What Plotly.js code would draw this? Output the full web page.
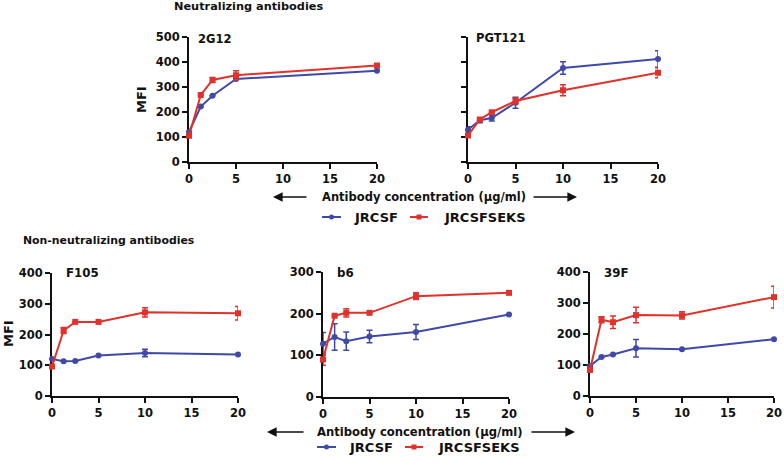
<!DOCTYPE html>
<html>
<head>
<meta charset="utf-8">
<script src="https://cdn.plot.ly/plotly-3.0.1.min.js"></script>
<style>html,body{margin:0;padding:0;background:#fff;}#chart{width:784px;height:463px;}</style>
</head>
<body>
<div id="chart"></div>
<script>
// ---- data ----
const seriesNames = ["JRCSF", "JRCSFSEKS"];
const panelNames = ["2G12", "PGT121", "F105", "b6", "39F"];

const x_2G12 = [0, 1.25, 2.5, 5, 20];
const jrcsf_2G12 = [120, 222, 265, 332, 365];
const jrcsf_2G12_err = [0, 0, 0, 0, 0];
const seks_2G12 = [105, 268, 328, 347, 386];
const seks_2G12_err = [0, 0, 10, 18, 0];

const x_PGT121 = [0, 1.25, 2.5, 5, 10, 20];
const jrcsf_PGT121 = [129, 167, 176, 237, 376, 412];
const jrcsf_PGT121_err = [12, 10, 12, 22, 25, 33];
const seks_PGT121 = [106, 170, 199, 244, 287, 357];
const seks_PGT121_err = [0, 0, 0, 12, 22, 20];

const x_F105 = [0, 1.25, 2.5, 5, 10, 20];
const jrcsf_F105 = [120, 113, 114, 132, 140, 135];
const jrcsf_F105_err = [0, 0, 0, 0, 12, 0];
const seks_F105 = [96, 213, 241, 241, 272, 269];
const seks_F105_err = [0, 10, 0, 0, 15, 22];

const x_b6 = [0, 1.25, 2.5, 5, 10, 20];
const jrcsf_b6 = [128, 144, 134, 145, 156, 198];
const jrcsf_b6_err = [27, 32, 22, 15, 18, 0];
const seks_b6 = [90, 195, 202, 202, 242, 250];
const seks_b6_err = [14, 0, 10, 0, 8, 0];

const x_39F = [0, 1.25, 2.5, 5, 10, 20];
const jrcsf_39F = [97, 126, 134, 154, 151, 183];
const jrcsf_39F_err = [0, 0, 0, 28, 0, 0];
const seks_39F = [84, 246, 238, 261, 260, 319];
const seks_39F_err = [0, 10, 20, 25, 12, 35];

const xTicks = [0, 5, 10, 15, 20];
// ---- end data ----

const W = 784, H = 463;
const BLUE = "#4049a8", RED = "#e0312a";
const FONT = "DejaVu Sans, Liberation Sans, Arial, sans-serif";
const px = v => v / W, py = v => 1 - v / H;

function mk(x, y, e, name, color, sym, ax, ay) {
  return {
    x: x, y: y, name: name, type: "scatter", mode: "lines+markers",
    xaxis: ax, yaxis: ay, showlegend: false, cliponaxis: false,
    line: {color: color, width: 2},
    marker: {color: color, symbol: sym, size: 6},
    error_y: {type: "data", array: e, visible: true, color: color, thickness: 1.5, width: 3}
  };
}
const data = [
  mk(x_2G12, jrcsf_2G12, jrcsf_2G12_err, seriesNames[0], BLUE, "circle", "x", "y"),
  mk(x_2G12, seks_2G12, seks_2G12_err, seriesNames[1], RED, "square", "x", "y"),
  mk(x_PGT121, jrcsf_PGT121, jrcsf_PGT121_err, seriesNames[0], BLUE, "circle", "x2", "y2"),
  mk(x_PGT121, seks_PGT121, seks_PGT121_err, seriesNames[1], RED, "square", "x2", "y2"),
  mk(x_F105, jrcsf_F105, jrcsf_F105_err, seriesNames[0], BLUE, "circle", "x3", "y3"),
  mk(x_F105, seks_F105, seks_F105_err, seriesNames[1], RED, "square", "x3", "y3"),
  mk(x_b6, jrcsf_b6, jrcsf_b6_err, seriesNames[0], BLUE, "circle", "x4", "y4"),
  mk(x_b6, seks_b6, seks_b6_err, seriesNames[1], RED, "square", "x4", "y4"),
  mk(x_39F, jrcsf_39F, jrcsf_39F_err, seriesNames[0], BLUE, "circle", "x5", "y5"),
  mk(x_39F, seks_39F, seks_39F_err, seriesNames[1], RED, "square", "x5", "y5")
];

const tf = {family: FONT, size: 11.5, color: "#111", weight: "bold"};
function xa(d, anchor) {
  return {domain: d, anchor: anchor, range: [0, 20], tickvals: xTicks, ticks: "outside", ticklen: 5, tickwidth: 2,
    showline: true, linewidth: 2, linecolor: "#111", tickcolor: "#111", showgrid: false, zeroline: false,
    tickfont: tf, layer: "below traces", fixedrange: true};
}
function ya(d, anchor, max, labels) {
  const tv = []; for (let v = 0; v <= max; v += 100) tv.push(v);
  return {domain: d, anchor: anchor, range: [0, max], tickvals: tv, ticks: "outside", ticklen: 5, tickwidth: 2,
    showline: true, linewidth: 2, linecolor: "#111", tickcolor: "#111", showgrid: false, zeroline: false,
    showticklabels: labels, tickfont: tf, layer: "below traces", fixedrange: true};
}

const layout = {
  width: W, height: H, margin: {l: 0, r: 0, t: 0, b: 0},
  paper_bgcolor: "#fff", plot_bgcolor: "rgba(0,0,0,0)", showlegend: false,
  font: {family: FONT},
  xaxis: xa([px(189), px(377)], "y"),  yaxis: ya([py(162), py(37)], "x", 500, true),
  xaxis2: xa([px(468), px(658)], "y2"), yaxis2: ya([py(162), py(37)], "x2", 500, false),
  xaxis3: xa([px(52), px(238)], "y3"), yaxis3: ya([py(396), py(273)], "x3", 400, true),
  xaxis4: xa([px(323), px(509)], "y4"), yaxis4: ya([py(397), py(272)], "x4", 300, true),
  xaxis5: xa([px(590), px(774)], "y5"), yaxis5: ya([py(396), py(272)], "x5", 400, true),
  annotations: [],
  shapes: []
};

function txt(t, x, y, size, opts) {
  layout.annotations.push(Object.assign({text: t, xref: "paper", yref: "paper", x: px(x), y: py(y),
    xanchor: "left", yanchor: "middle", showarrow: false,
    font: {family: FONT, size: size, color: "#111", weight: "bold"}}, opts || {}));
}
txt("Neutralizing antibodies", 172, 7, 11.3);
txt("Non-neutralizing antibodies", 21, 240, 10.9);
txt(panelNames[0], 196, 39, 11.5);
txt(panelNames[1], 474, 38, 11.5);
txt(panelNames[2], 64, 273, 11.8);
txt(panelNames[3], 335, 273, 11.8);
txt(panelNames[4], 602, 273, 11.8);
txt("MFI", 142, 100, 13, {textangle: -90, xanchor: "center"});
txt("MFI", 8, 333, 13, {textangle: -90, xanchor: "center"});

function arrow(tipX, tailX, y) {
  layout.annotations.push({text: "", xref: "paper", yref: "paper", x: px(tipX), y: py(y),
    axref: "pixel", ayref: "pixel", ax: tailX - tipX, ay: 0, showarrow: true,
    arrowhead: 2, arrowsize: 1.2, arrowwidth: 1.6, arrowcolor: "#111"});
}
function legendRow(y, x1, x2, x3, x4, t1x, t2x) {
  layout.shapes.push({type: "line", xref: "paper", yref: "paper", x0: px(x1), x1: px(x2), y0: py(y), y1: py(y), line: {color: BLUE, width: 2}});
  const cb = (x1 + x2) / 2;
  layout.shapes.push({type: "circle", xref: "paper", yref: "paper", x0: px(cb - 2.5), x1: px(cb + 2.5), y0: py(y - 2.5), y1: py(y + 2.5), fillcolor: BLUE, line: {width: 0}});
  layout.shapes.push({type: "line", xref: "paper", yref: "paper", x0: px(x3), x1: px(x4), y0: py(y), y1: py(y), line: {color: RED, width: 2}});
  const cr = (x3 + x4) / 2;
  layout.shapes.push({type: "rect", xref: "paper", yref: "paper", x0: px(cr - 2.5), x1: px(cr + 2.5), y0: py(y - 2.5), y1: py(y + 2.5), fillcolor: RED, line: {width: 0}});
  txt(seriesNames[0], t1x, y, 13);
  txt(seriesNames[1], t2x, y, 13);
}
// top block
txt("Antibody concentration (\u03bcg/ml)", 320, 197, 11.5);
arrow(273, 308, 197);
arrow(577, 532, 197);
legendRow(217, 322, 341, 410, 428, 352, 442);
// bottom block
txt("Antibody concentration (\u03bcg/ml)", 315, 432, 11.6);
arrow(267, 305, 432);
arrow(575, 530, 432);
legendRow(447, 317, 336, 405, 423, 347, 436);

Plotly.newPlot("chart", data, layout, {displayModeBar: false, staticPlot: true});
</script>
</body>
</html>
